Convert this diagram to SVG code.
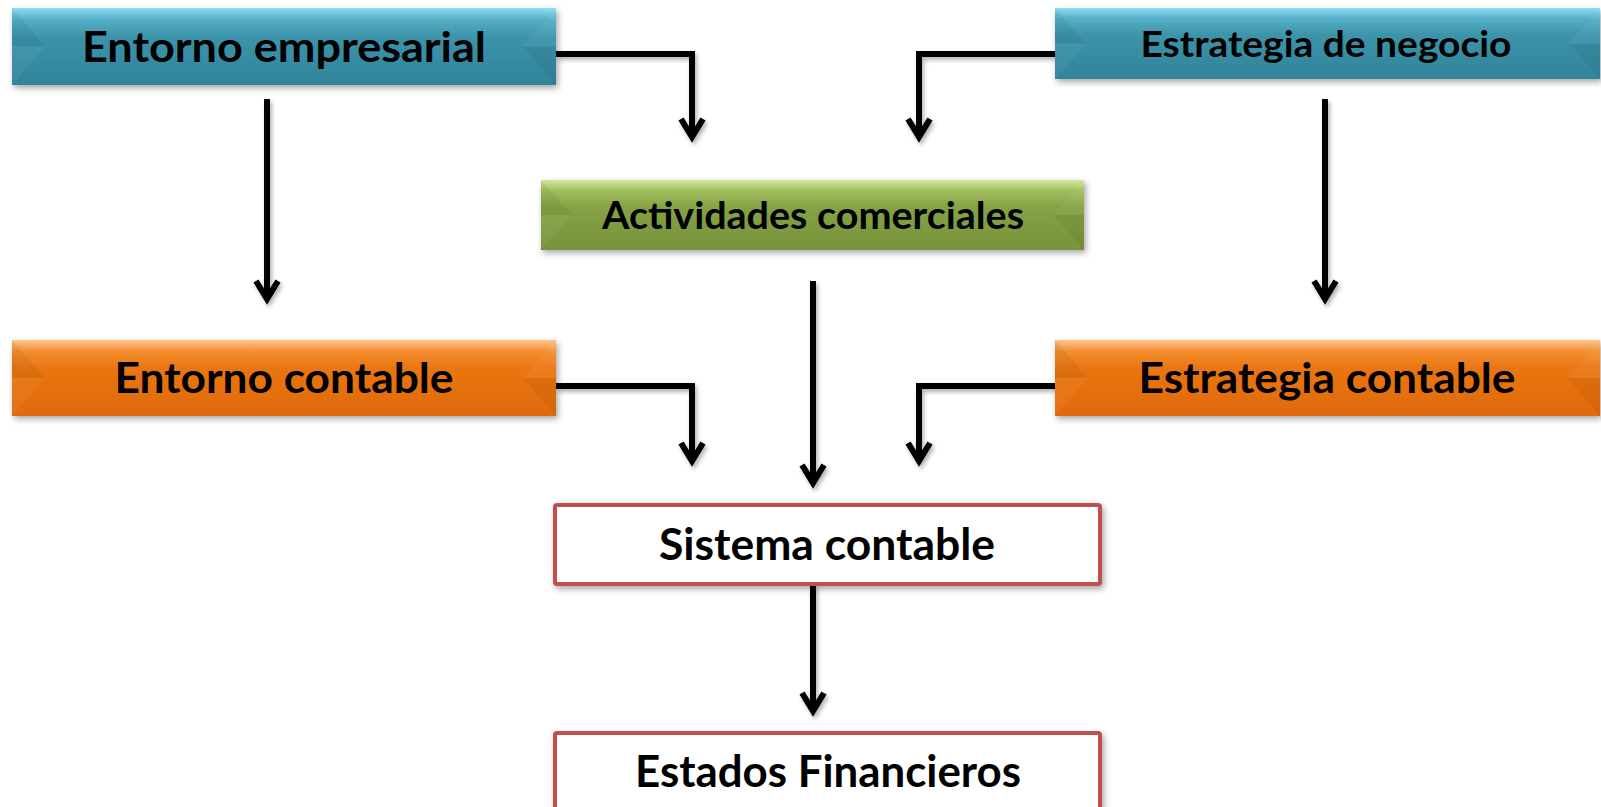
<svg xmlns="http://www.w3.org/2000/svg" width="1601" height="807" viewBox="0 0 1601 807">
<defs>
  <linearGradient id="gBlue" x1="0" y1="0" x2="0" y2="1">
    <stop offset="0" stop-color="#8EDDF2"/>
    <stop offset="0.15" stop-color="#55AFC7"/>
    <stop offset="0.38" stop-color="#3C93AA"/>
    <stop offset="1" stop-color="#30849A"/>
  </linearGradient>
  <linearGradient id="gGreen" x1="0" y1="0" x2="0" y2="1">
    <stop offset="0" stop-color="#D4E8A2"/>
    <stop offset="0.15" stop-color="#A0BE5E"/>
    <stop offset="0.38" stop-color="#86A245"/>
    <stop offset="1" stop-color="#77933B"/>
  </linearGradient>
  <linearGradient id="gOrange" x1="0" y1="0" x2="0" y2="1">
    <stop offset="0" stop-color="#FCC48F"/>
    <stop offset="0.15" stop-color="#F38E30"/>
    <stop offset="0.38" stop-color="#E97512"/>
    <stop offset="1" stop-color="#E06A08"/>
  </linearGradient>
  <filter id="shadow" x="-5%" y="-20%" width="110%" height="150%">
    <feDropShadow dx="2" dy="3" stdDeviation="3" flood-color="#000" flood-opacity="0.35"/>
  </filter>
  <filter id="lshadow" x="-10%" y="-10%" width="120%" height="120%">
    <feDropShadow dx="2" dy="3" stdDeviation="2" flood-color="#000" flood-opacity="0.3"/>
  </filter>
  <marker id="arrow" markerUnits="userSpaceOnUse" markerWidth="40" markerHeight="40" viewBox="-30 -20 40 40" refX="0" refY="0" orient="auto" overflow="visible">
    <path d="M-19,-11 L-1,0 L-19,11" fill="none" stroke="#000" stroke-width="6" stroke-linejoin="miter"/>
  </marker>
</defs>
<style>
  .lbl { font-family: Lato, "Open Sans", "Liberation Sans", sans-serif; font-weight: 700; fill: #000; text-anchor: middle; }
  .hl { fill: #fff; opacity: 0.05; }
  .dk { fill: #000; opacity: 0.05; }
  .white { fill: #fff; stroke: #C0504D; stroke-width: 4; }
  .conn { fill: none; stroke: #000; stroke-width: 6; stroke-linejoin: miter; marker-end: url(#arrow); }
</style>

<g id="connectors" filter="url(#lshadow)">
  <path class="conn" d="M556,54 H692 V138"/>
  <path class="conn" d="M1055,54 H919 V138"/>
  <path class="conn" d="M267,99 V300"/>
  <path class="conn" d="M1325,99 V300"/>
  <path class="conn" d="M813,281 V484"/>
  <path class="conn" d="M556,386 H692 V462"/>
  <path class="conn" d="M1055,386 H919 V462"/>
  <path class="conn" d="M813,584 V712"/>
</g>

<g id="entorno-empresarial">
  <g filter="url(#shadow)"><rect x="12" y="8" width="544" height="77" fill="url(#gBlue)"/></g>
  <polygon class="dk" points="12,8 45,46.5 12,46.5"/>
  <polygon class="hl" points="12,46.5 45,46.5 12,85"/>
  <polygon class="hl" points="556,8 523,46.5 556,46.5"/>
  <polygon class="dk" points="556,46.5 523,46.5 556,85"/>
  <text class="lbl" x="284" y="62" font-size="42" textLength="404" lengthAdjust="spacingAndGlyphs">Entorno empresarial</text>
</g>

<g id="estrategia-negocio">
  <g filter="url(#shadow)"><rect x="1055" y="8" width="545" height="71" fill="url(#gBlue)"/></g>
  <polygon class="dk" points="1055,8 1086,43.5 1055,43.5"/>
  <polygon class="hl" points="1055,43.5 1086,43.5 1055,79"/>
  <polygon class="hl" points="1600,8 1569,43.5 1600,43.5"/>
  <polygon class="dk" points="1600,43.5 1569,43.5 1600,79"/>
  <text class="lbl" x="1326" y="57" font-size="36" textLength="371" lengthAdjust="spacingAndGlyphs">Estrategia de negocio</text>
</g>

<g id="actividades-comerciales">
  <g filter="url(#shadow)"><rect x="541" y="180" width="543" height="70" fill="url(#gGreen)"/></g>
  <polygon class="dk" points="541,180 572,215 541,215"/>
  <polygon class="hl" points="541,215 572,215 541,250"/>
  <polygon class="hl" points="1084,180 1053,215 1084,215"/>
  <polygon class="dk" points="1084,215 1053,215 1084,250"/>
  <text class="lbl" x="813" y="229" font-size="38" textLength="422" lengthAdjust="spacingAndGlyphs">Actividades comerciales</text>
</g>

<g id="entorno-contable">
  <g filter="url(#shadow)"><rect x="12" y="340" width="544" height="76" fill="url(#gOrange)"/></g>
  <polygon class="dk" points="12,340 45,378 12,378"/>
  <polygon class="hl" points="12,378 45,378 12,416"/>
  <polygon class="hl" points="556,340 523,378 556,378"/>
  <polygon class="dk" points="556,378 523,378 556,416"/>
  <text class="lbl" x="284" y="393" font-size="42" textLength="339" lengthAdjust="spacingAndGlyphs">Entorno contable</text>
</g>

<g id="estrategia-contable">
  <g filter="url(#shadow)"><rect x="1055" y="340" width="545" height="76" fill="url(#gOrange)"/></g>
  <polygon class="dk" points="1055,340 1088,378 1055,378"/>
  <polygon class="hl" points="1055,378 1088,378 1055,416"/>
  <polygon class="hl" points="1600,340 1567,378 1600,378"/>
  <polygon class="dk" points="1600,378 1567,378 1600,416"/>
  <text class="lbl" x="1327" y="393" font-size="42" textLength="377" lengthAdjust="spacingAndGlyphs">Estrategia contable</text>
</g>

<g id="sistema-contable">
  <rect class="white" x="555" y="505" width="545" height="79" rx="2" filter="url(#shadow)"/>
  <text class="lbl" x="827" y="560" font-size="44" textLength="336" lengthAdjust="spacingAndGlyphs">Sistema contable</text>
</g>

<g id="estados-financieros">
  <rect class="white" x="555" y="733" width="545" height="100" rx="2" filter="url(#shadow)"/>
  <text class="lbl" x="828" y="787" font-size="44" textLength="386" lengthAdjust="spacingAndGlyphs">Estados Financieros</text>
</g>
</svg>
